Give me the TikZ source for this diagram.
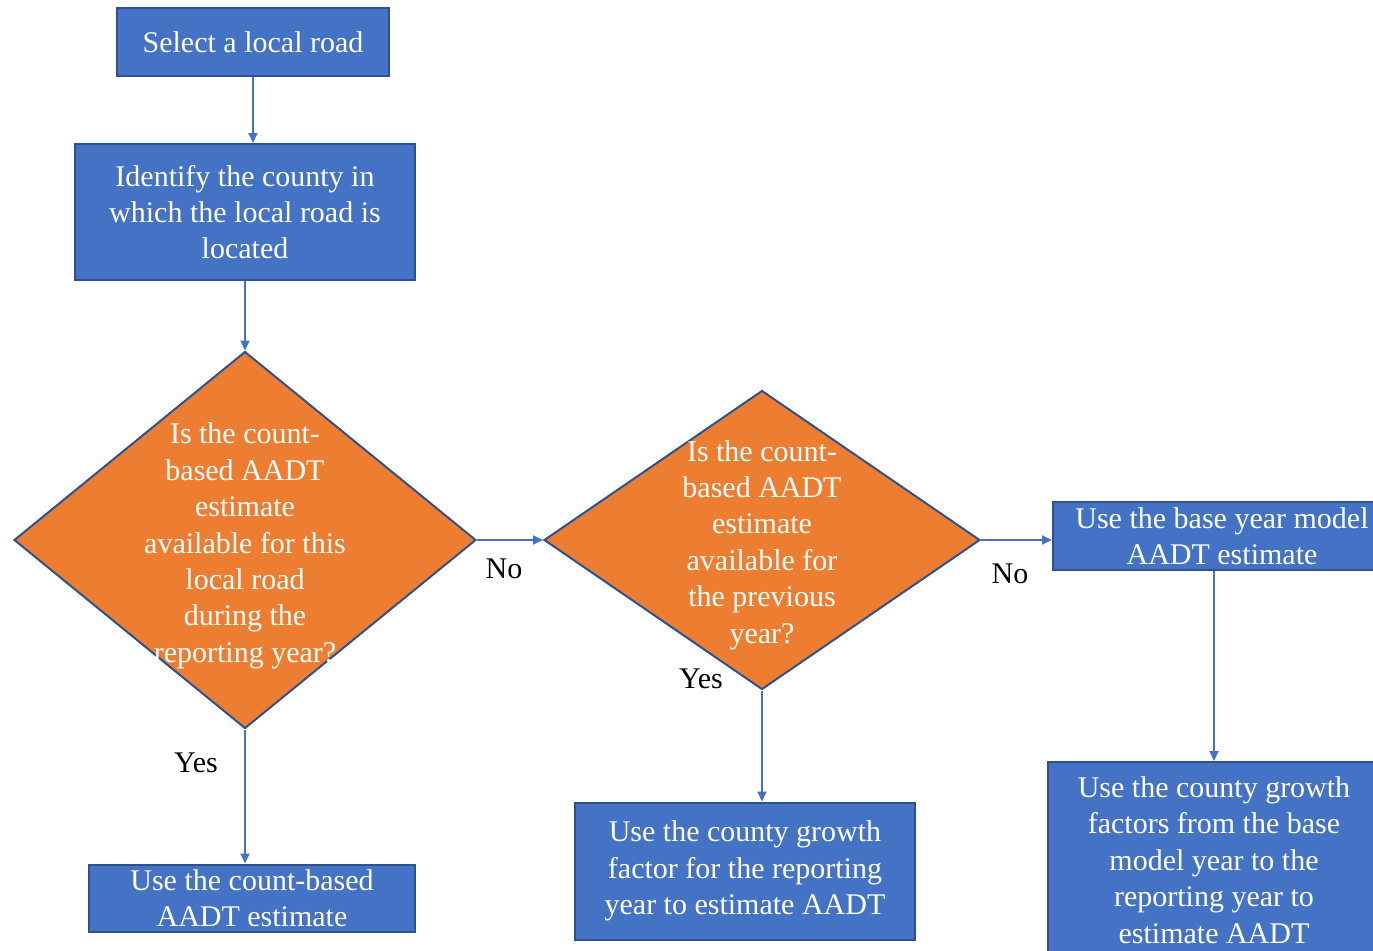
\documentclass[tikz,border=0pt]{standalone}
\usepackage{fontspec}
\setmainfont{Liberation Serif}
\usepackage{xcolor}
\usetikzlibrary{shapes.geometric, arrows.meta, positioning, calc}
\definecolor{boxblue}{HTML}{4472C4}
\definecolor{boxline}{HTML}{2F528F}
\definecolor{diaorange}{HTML}{ED7D31}
\tikzset{
    box/.style={rectangle, draw=boxline, fill=boxblue, line width=1pt, text=white, align=center, inner sep=0pt, font=\fontsize{15}{18.2}\selectfont},
    arrow/.style={draw=boxblue, line width=1pt, -{Triangle[length=5pt, width=4.5pt]}}
}

\begin{document}
\begin{tikzpicture}[x=0.5pt, y=-0.5pt,
    decision/.style={diamond, draw=boxline, fill=diaorange, line width=1pt, inner sep=0pt},
    dtext/.style={align=center, text=white, font=\fontsize{15}{18.2}\selectfont},
    answer/.style={font=\fontsize{15}{18.2}\selectfont}]

    \useasboundingbox [fill=white] (0,0) rectangle (1373,950);

    % Main column
    \node (select) [box, minimum width=136pt, minimum height=34pt] at (253,42) {Select a local road};
    \node (county) [box, minimum width=170pt, minimum height=68pt] at (245,212) {Identify the county in\\which the local road is\\located};

    % Decisions
    \node (d1) [decision, minimum width=231pt, minimum height=188.5pt] at (245,540) {};
    \node (d1text) [dtext] at (245,546) {Is the count-\\based AADT\\estimate\\available for this\\local road\\during the\\reporting year?};
    \node (d2) [decision, minimum width=218pt, minimum height=149.5pt] at (762,540) {};
    \node (d2text) [dtext] at (762,545) {Is the count-\\based AADT\\estimate\\available for\\the previous\\year?};

    % Outcomes
    \node (countbased) [box, minimum width=163pt, minimum height=33.5pt] at (252,898) {Use the count-based\\AADT estimate};
    \node (growth) [box, minimum width=170pt, minimum height=68.5pt] at (745,871) {Use the county growth\\factor for the reporting\\year to estimate AADT};
    \node (basemodel) [box, minimum width=169pt, minimum height=34pt] at (1222,536) {Use the base year model\\AADT estimate};
    \node (growthbase) [box, minimum width=166pt, minimum height=98pt] at (1214,860) {Use the county growth\\factors from the base\\model year to the\\reporting year to\\estimate AADT};

    % Arrows
    \draw [arrow] (select) -- (select.south |- county.north);
    \draw [arrow] (county) -- (d1.north);
    \draw [arrow] (d1.east) -- (d2.west);
    \draw [arrow] (d2.east) -- (d2.east -| basemodel.west);
    \draw [arrow] (d1.south) -- (d1.south |- countbased.north);
    \draw [arrow] (d2.south) -- (d2.south |- growth.north);
    \draw [arrow] (growthbase.north |- basemodel.south) -- (growthbase.north);

    % Labels
    \node (no1) [answer] at (504,569) {No};
    \node (no2) [answer] at (1010,574) {No};
    \node (yes1) [answer] at (196,763) {Yes};
    \node (yes2) [answer] at (701,679) {Yes};
\end{tikzpicture}
\end{document}
